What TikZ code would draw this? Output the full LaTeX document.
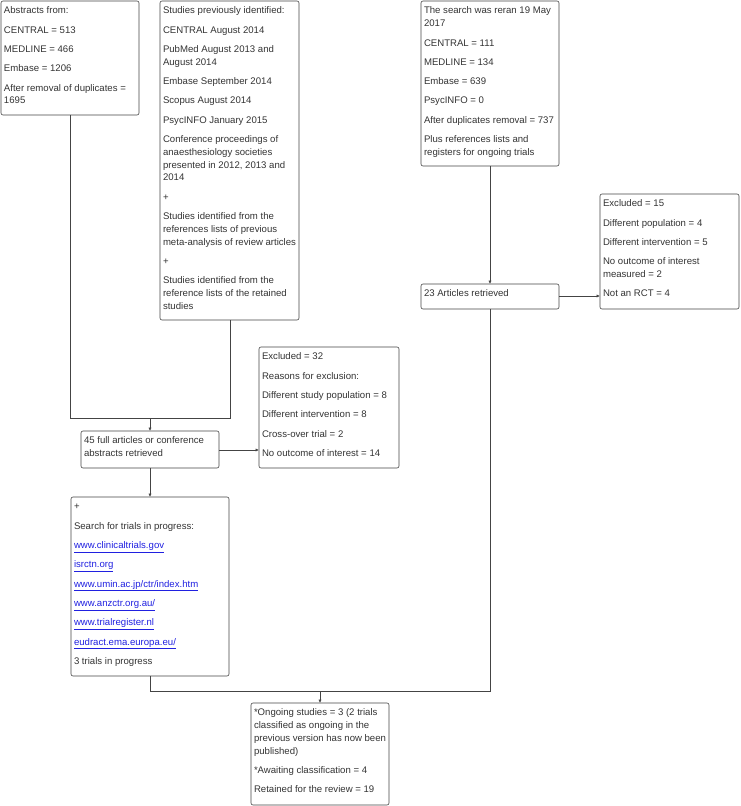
\documentclass[tikz,border=0pt]{standalone}
\usepackage{fontspec}
\setmainfont{Liberation Sans}
\usetikzlibrary{arrows.meta}
\definecolor{txt}{HTML}{333333}
\definecolor{edge}{HTML}{444444}
\definecolor{lnk}{HTML}{2020E0}
\newcommand\bxt[3]{\parbox[c][#2pt][t]{#1pt}{\fontsize{9.6}{12.8}\selectfont\color{txt}\raggedright\strut #3}}
\newcommand\lk[1]{\textcolor{lnk}{\underline{#1}}}
\newcommand\pg{\\[6.5pt]}
\tikzset{
  boxnode/.style={draw=edge, line width=0.6pt, rounded corners=2pt, anchor=north west,
    inner xsep=3pt, inner ysep=4pt, outer sep=0pt},
  conn/.style={draw=edge, line width=0.6pt},
  arr/.style={conn, -{Latex[length=3.5pt,width=3.2pt]}}
}
\begin{document}
\begin{tikzpicture}[x=1pt,y=-1pt]
\useasboundingbox (0,0) rectangle (740,806);
% Box A
\node[boxnode] (a) at (1,1) {\bxt{132}{106}{Abstracts from:\pg CENTRAL = 513\pg MEDLINE = 466\pg Embase = 1206\pg After removal of duplicates =\\ 1695}};
% Box B
\node[boxnode] (b) at (160,1) {\bxt{133}{311}{Studies previously identified:\pg CENTRAL August 2014\pg PubMed August 2013 and\\ August 2014\pg Embase September 2014\pg Scopus August 2014\pg PsycINFO January 2015\pg Conference proceedings of\\ anaesthesiology societies\\ presented in 2012, 2013 and\\ 2014\pg +\pg Studies identified from the\\ references lists of previous\\ meta-analysis of review articles\pg +\pg Studies identified from the\\ reference lists of the retained\\ studies}};
% Box C
\node[boxnode] (c) at (421,1) {\bxt{132}{157}{The search was reran 19 May\\ 2017\pg CENTRAL = 111\pg MEDLINE = 134\pg Embase = 639\pg PsycINFO = 0\pg After duplicates removal = 737\pg Plus references lists and\\ registers for ongoing trials}};
% Box D
\node[boxnode] (d) at (421,284) {\bxt{132}{17}{23 Articles retrieved}};
% Box E
\node[boxnode] (e) at (600,194) {\bxt{133}{107}{Excluded = 15\pg Different population = 4\pg Different intervention = 5\pg No outcome of interest\\ measured = 2\pg Not an RCT = 4}};
% Box F
\node[boxnode] (f) at (259,347) {\bxt{134}{113}{Excluded = 32\pg Reasons for exclusion:\pg Different study population = 8\pg Different intervention = 8\pg Cross-over trial = 2\pg No outcome of interest = 14}};
% Box G
\node[boxnode] (g) at (81,431) {\bxt{132}{29}{45 full articles or conference\\ abstracts retrieved}};
% Box H
\node[boxnode] (h) at (71,497) {\bxt{152}{171}{+\pg Search for trials in progress:\pg \lk{www.clinicaltrials.gov}\pg \lk{isrctn.org}\pg \lk{www.umin.ac.jp/ctr/index.htm}\pg \lk{www.anzctr.org.au/}\pg \lk{www.trialregister.nl}\pg \lk{eudract.ema.europa.eu/}\pg 3 trials in progress}};
% Box I
\node[boxnode] (i) at (251,703) {\bxt{132}{94}{*Ongoing studies = 3 (2 trials\\ classified as ongoing in the\\ previous version has now been\\ published)\pg *Awaiting classification = 4\pg Retained for the review = 19}};
% junction coordinates
\coordinate (j1) at (150,418);
\coordinate (j2) at (320,691);
% connectors
\draw[conn] (a.south -| 70,0) |- (j1);
\draw[conn] (b.south -| 230,0) |- (j1);
\draw[arr] (j1) -- (g.north -| j1);
\draw[arr] (g.east |- 0,450) -- (f.west |- 0,450);
\draw[arr] (g.south -| 150,0) -- (h.north -| 150,0);
\draw[arr] (c.south -| 490,0) -- (d.north -| 490,0);
\draw[arr] (d.east |- 0,296) -- (e.west |- 0,296);
\draw[conn] (h.south -| 150,0) |- (j2);
\draw[conn] (d.south -| 490,0) |- (j2);
\draw[arr] (j2) -- (i.north -| j2);
\end{tikzpicture}
\end{document}
